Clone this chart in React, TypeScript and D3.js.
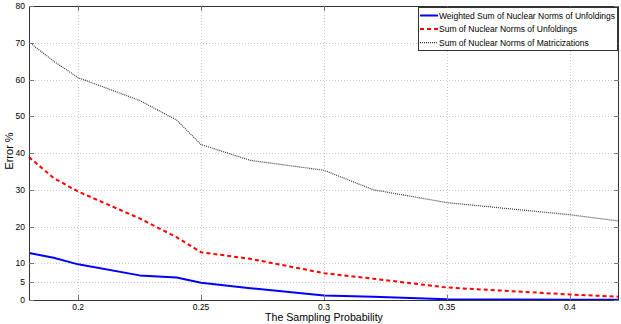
import React from "react";
import * as d3 from "d3";

const xValues = [0.18, 0.19, 0.2, 0.225, 0.24, 0.25, 0.27, 0.3, 0.32, 0.35, 0.4, 0.42];
const weightedSum = [12.8, 11.5, 9.7, 6.7, 6.1, 4.7, 3.2, 1.2, 0.9, 0.2, 0.1, 0.1];
const sumUnfoldings = [38.9, 33.2, 29.5, 22.2, 17.1, 13.0, 11.2, 7.3, 5.8, 3.4, 1.5, 0.9];
const sumMatricizations = [70.2, 65.0, 60.5, 54.3, 49.0, 42.3, 38.0, 35.3, 30.0, 26.5, 23.2, 21.5];
const xTicks = [0.2, 0.25, 0.3, 0.35, 0.4];
const yTicks = [0, 5, 10, 20, 30, 40, 50, 60, 70, 80];
const seriesNames = [
  "Weighted Sum of Nuclear Norms of Unfoldings",
  "Sum of Nuclear Norms of Unfoldings",
  "Sum of Nuclear Norms of Matricizations",
];

const W = 621;
const H = 324;
const L = 29, R = 619, T = 6, B = 300;
const font = "'Liberation Sans', Arial, Helvetica, sans-serif";

export default function App() {
  const x = d3.scaleLinear().domain([0.18, 0.42]).range([L, R]);
  const y = d3.scaleLinear().domain([0, 80]).range([B, T]);
  const mk = (vals: number[]) =>
    d3.line<number>().x((_, i) => x(xValues[i])).y((v) => y(v))(vals) || "";

  const styles = [
    { stroke: "#0000ff", width: 2, dash: "" },
    { stroke: "#ff0000", width: 2, dash: "4,3" },
    { stroke: "#3a3a3a", width: 1.2, dash: "1,1" },
  ];
  const data = [weightedSum, sumUnfoldings, sumMatricizations];
  const tickLen = 5;
  const axisColor = "#333";

  return (
    <svg width={W} height={H} style={{ position: "absolute", left: 0, top: 0, background: "#fff" }} fontFamily={font}>
      <rect x={0} y={0} width={W} height={H} fill="#fff" />
      {/* grid */}
      <g stroke="#c8c8c8" strokeWidth={1} strokeDasharray="1,2">
        {xTicks.map((t) => (
          <line key={"gx" + t} x1={Math.round(x(t)) + 0.5} x2={Math.round(x(t)) + 0.5} y1={T} y2={B} />
        ))}
        {yTicks.filter((t) => t > 0 && t < 80).map((t) => (
          <line key={"gy" + t} x1={L} x2={R} y1={Math.round(y(t)) + 0.5} y2={Math.round(y(t)) + 0.5} />
        ))}
      </g>
      {/* series */}
      {data.map((d, i) => (
        <path
          key={"s" + i}
          d={mk(d)}
          fill="none"
          stroke={styles[i].stroke}
          strokeWidth={styles[i].width}
          strokeDasharray={styles[i].dash || undefined}
          strokeLinejoin="round"
        />
      ))}
      {/* axes box */}
      <rect x={L + 0.5} y={T + 0.5} width={R - L - 1} height={B - T} fill="none" stroke={axisColor} strokeWidth={1} />
      {/* ticks */}
      <g stroke="#777" strokeWidth={1}>
        {xTicks.map((t) => {
          const px = Math.round(x(t)) + 0.5;
          return (
            <g key={"xt" + t}>
              <line x1={px} x2={px} y1={B} y2={B - tickLen} />
              <line x1={px} x2={px} y1={T} y2={T + tickLen} />
            </g>
          );
        })}
        {yTicks.map((t) => {
          const py = Math.round(y(t)) + 0.5;
          return (
            <g key={"yt" + t}>
              <line x1={L} x2={L + tickLen} y1={py} y2={py} />
              <line x1={R} x2={R - tickLen} y1={py} y2={py} />
            </g>
          );
        })}
      </g>
      {/* tick labels */}
      <g fontSize={8.5} fill="#000">
        {xTicks.map((t) => (
          <text key={"xl" + t} x={x(t)} y={310} textAnchor="middle">
            {d3.format("")(t)}
          </text>
        ))}
        {yTicks.map((t) => (
          <text key={"yl" + t} x={25} y={y(t) + 3} textAnchor="end">
            {t}
          </text>
        ))}
      </g>
      {/* axis labels */}
      <text x={324} y={321} textAnchor="middle" fontSize={10.6} fill="#000">
        The Sampling Probability
      </text>
      <text transform={`translate(13,151) rotate(-90)`} textAnchor="middle" fontSize={11} fill="#000">
        Error %
      </text>
      {/* legend */}
      <g>
        <rect x={418.5} y={7.5} width={199} height={43} fill="#fff" stroke={axisColor} strokeWidth={1} />
        {seriesNames.map((name, i) => {
          const cy = 15.5 + i * 13.6;
          return (
            <g key={"lg" + i}>
              <line
                x1={420}
                x2={438}
                y1={cy}
                y2={cy}
                stroke={styles[i].stroke}
                strokeWidth={styles[i].width}
                strokeDasharray={styles[i].dash || undefined}
              />
              <text x={439} y={cy + 3} fontSize={8.5} fill="#000">
                {name}
              </text>
            </g>
          );
        })}
      </g>
    </svg>
  );
}
